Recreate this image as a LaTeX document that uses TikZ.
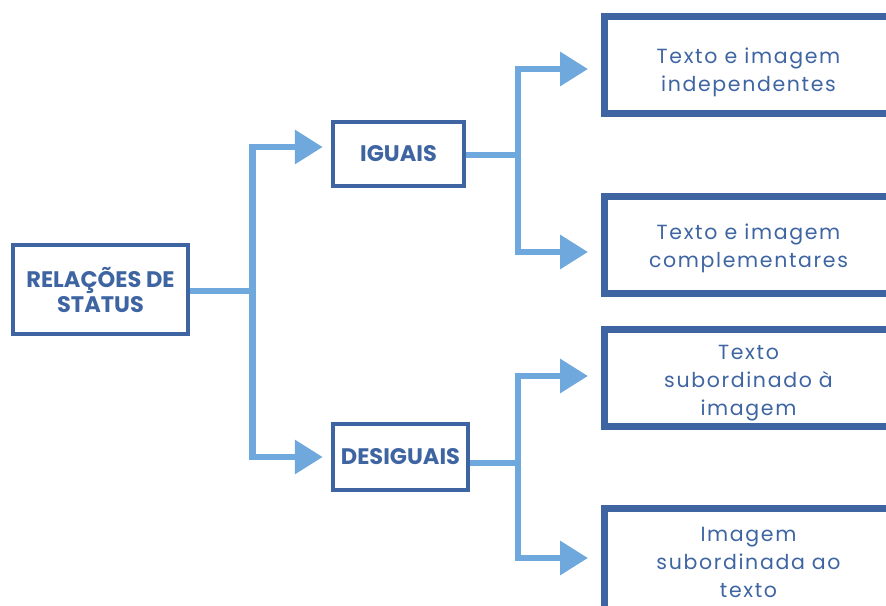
\documentclass[tikz,border=0pt]{standalone}
\usepackage{fontspec}
\setmainfont{Poppins}
\newfontfamily\spacedfont[LetterSpace=8]{Poppins}
\usetikzlibrary{arrows.meta, positioning}
\definecolor{boxblue}{HTML}{3E65A2}
\definecolor{linkblue}{HTML}{6FA8DC}

\tikzset{
    mainbox/.style={draw=boxblue, line width=4.5pt, text=boxblue, align=center,
        inner sep=0pt, font=\bfseries\fontsize{22.5}{25}\selectfont},
    leafbox/.style={draw=boxblue, line width=7pt, inner sep=0pt,
        minimum width=289pt, minimum height=97pt},
    leaftext/.style={text=boxblue, align=center, inner sep=0pt,
        font=\spacedfont\fontsize{20.5}{28}\selectfont},
    link/.style={draw=linkblue, line width=6.5pt},
    arrowlink/.style={link, -{Triangle[length=28pt, width=33pt]}}
}

\begin{document}
\begin{tikzpicture}[x=1pt, y=-1pt]
    \useasboundingbox (0,0) rectangle (886,605);
    % boxes
    \node [mainbox, minimum width=175pt, minimum height=89pt] (rel) at (100.5,289.5) {RELAÇÕES DE\\STATUS};
    \node [mainbox, minimum width=131pt, minimum height=64pt] (igu) at (398.5,154) {IGUAIS};
    \node [mainbox, minimum width=135pt, minimum height=66pt] (des) at (400.5,457) {DESIGUAIS};
    \node [leafbox, label={[leaftext, yshift=-7pt]center:{Texto e imagem\\independentes}}] (indep) at (748.5,65) {};
    \node [leafbox, label={[leaftext, yshift=-4pt]center:{Texto e imagem\\complementares}}] (compl) at (748.5,244.5) {};
    \node [leafbox, label={[leaftext, yshift=-6pt]center:{Texto\\subordinado à\\imagem}}] (txtsub) at (748.5,377.5) {};
    \node [leafbox, minimum height=110pt, label={[leaftext, yshift=1pt]center:{Imagem\\subordinada ao\\texto}}] (imgsub) at (748.5,563.5) {};
    % junctions
    \coordinate (jrel) at (252.5,291);
    \coordinate (jigu) at (518,155);
    \coordinate (jdes) at (518,463);
    % connectors
    \draw [link] (rel.east |- jrel) -- (jrel);
    \draw [arrowlink, shorten >=8pt] (jrel) |- ([yshift=7pt]igu.west);
    \draw [arrowlink, shorten >=8pt] (jrel) |- (des.west);
    \draw [link] (igu.east |- jigu) -- (jigu);
    \draw [arrowlink, shorten >=12.5pt] (jigu) |- ([yshift=-4pt]indep.west);
    \draw [arrowlink, shorten >=12.5pt] (jigu) |- ([yshift=-7.5pt]compl.west);
    \draw [link] (des.east |- jdes) -- (jdes);
    \draw [arrowlink, shorten >=12.5pt] (jdes) |- ([yshift=1.5pt]txtsub.west);
    \draw [arrowlink, shorten >=12.5pt] (jdes) |- ([yshift=5.5pt]imgsub.west);
\end{tikzpicture}
\end{document}
